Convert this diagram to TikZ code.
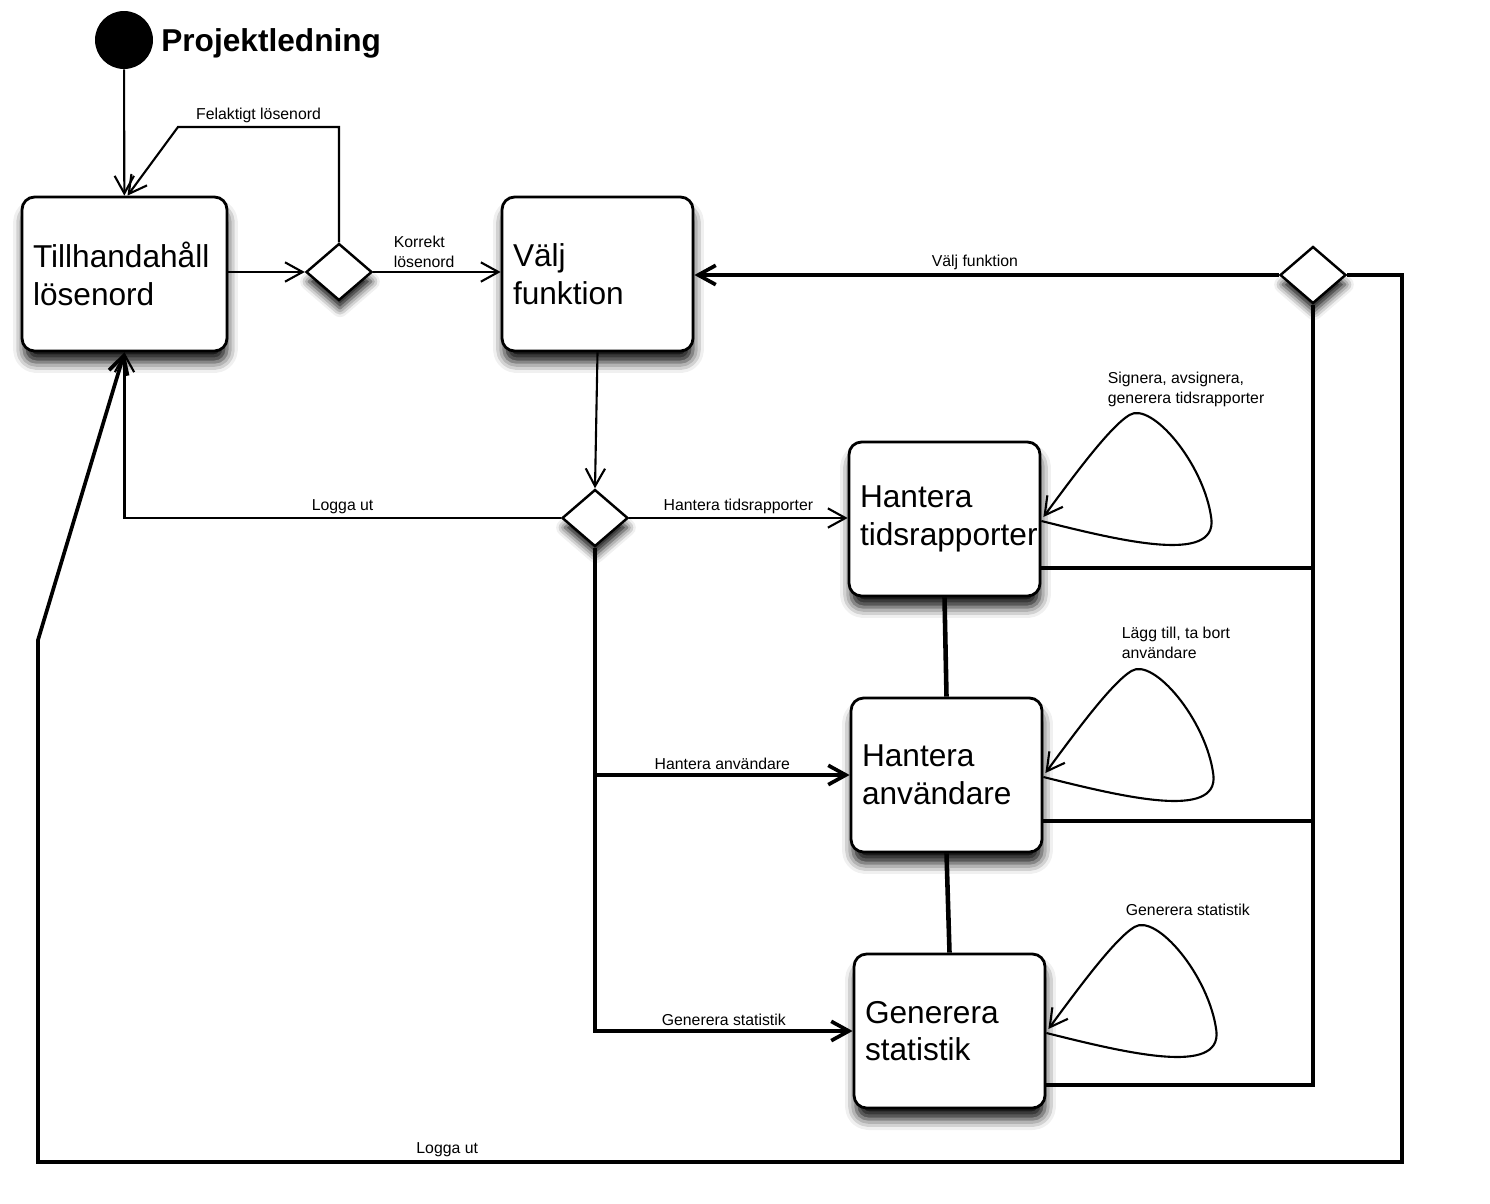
\documentclass[tikz,border=0pt]{standalone}
\usepackage{fontspec}
\setmainfont{Liberation Sans}
\usepackage{tikz}
\usetikzlibrary{arrows.meta,shapes.geometric,shadows.blur}
\tikzset{
    %Define standard arrow tip
    >={Straight Barb[length=10pt,width=11pt]},
    %Define style for states
    tillstand/.style={
           rectangle,
           rounded corners=0.25cm,
           draw=black, line width=1.6pt,
           fill=white,
           blur shadow={shadow xshift=0.02cm, shadow yshift=-0.24cm, shadow scale=0.99,
                        shadow blur radius=0.22cm, shadow opacity=95},
           minimum width=3.82cm,
           minimum height=3.08cm,
           text width=3.38cm,
           inner xsep=0.22cm,
           align=left,
           font=\fontsize{18}{21.5}\selectfont},
    %Define style for decisions
    beslut/.style={
           diamond,
           draw=black, line width=1.4pt,
           fill=white,
           blur shadow={shadow xshift=0.02cm, shadow yshift=-0.2cm, shadow scale=0.96,
                        shadow blur radius=0.18cm, shadow opacity=95},
           minimum width=1.32cm,
           minimum height=1.14cm,
           inner sep=0pt},
    startpunkt/.style={
           circle,
           fill=black,
           minimum size=1.16cm,
           inner sep=0pt},
    etikett/.style={
           font=\fontsize{9}{11.3}\selectfont,
           inner sep=2pt},
    % Define arrow style
    pil/.style={
           ->,
           line width=1.2pt},
    tjock/.style={
           line width=2.1pt}
}

\begin{document}
\begin{tikzpicture}[x=0.02cm,y=-0.02cm]
\useasboundingbox (0,0) rectangle (1490,1203);
\node[startpunkt](start) at (124,40){};
\node[anchor=base west, inner sep=0pt, font=\fontsize{18}{22}\selectfont\bfseries](titel) at (161,52){Projektledning};
\node[tillstand, minimum width=4.1cm, text width=3.66cm](till) at (124.5,274){Tillhandahåll\\lösenord};
\node[beslut](d1) at (339,272){};
\node[tillstand](valj) at (597.5,274){Välj\\funktion};
\node[beslut](d2) at (1313,275){};
\node[beslut](d3) at (595,518){};
\node[tillstand](tid) at (944.5,519){Hantera\\tidsrapporter};
\node[tillstand](anv) at (946.5,775){Hantera\\användare};
\node[tillstand](stat) at (949.5,1031){Generera\\statistik};
\coordinate (fel) at (178,127);
\coordinate (hog) at (1402,1162);
\coordinate (vanster) at (38,1162);
\coordinate (knack) at (38,640);

\draw[pil] (start) -- (till);
\draw[pil] (d1.north) |- node[etikett, above, pos=0.75]{Felaktigt lösenord} (fel) -- ([xshift=0.06cm]till.north);
\draw[pil] (till.east |- d1.west) -- (d1.west);
\draw[pil] (d1.east) -- node[etikett, above, pos=0.4, align=left]{Korrekt\\lösenord} (valj.west |- d1.east);
\draw[pil, tjock] (d2.west) -- node[etikett, above, pos=0.52]{Välj funktion} (valj.east |- d2.west);
\draw[pil, tjock] (d2.east) -| (hog) -- node[etikett, above, pos=0.7]{Logga ut} (vanster) -- (knack) -- (till.south);
\draw[pil] (valj.south) -- (d3.north);
\draw[pil] (d3.west) -| node[etikett, above, pos=0.25]{Logga ut} (till.south);
\draw[pil] (d3.east) -- node[etikett, above]{Hantera tidsrapporter} (tid.west |- d3.east);
\draw[pil, tjock] (d3.south) |- node[etikett, above, pos=0.75]{Generera statistik} (stat.west);
\draw[pil, tjock] (d3.south |- anv.west) -- node[etikett, above]{Hantera användare} (anv.west);
\draw[tjock, line width=2.6pt] (tid.south) -- (anv.north);
\draw[tjock, line width=2.6pt] (anv.south) -- (stat.north);
\foreach \b/\dy in {tid/0.98, anv/0.92, stat/1.08}
  \draw[tjock] ([yshift=-\dy cm]\b.east) -| (d2.south);
% self loops
\foreach \b in {tid,anv,stat}
  \draw[pil, shift={(\b.east)}] (0,2) .. controls (80,22) and (175,45) .. (170,0)
        .. controls (163,-55) and (110,-118) .. (88,-104)
        .. controls (68,-92) and (30,-40) .. (2,-2);
\node[etikett, anchor=north west, align=left] at (1104,368){Signera, avsignera,\\generera tidsrapporter};
\node[etikett, anchor=north west, align=left] at (1118,623){Lägg till, ta bort\\användare};
\node[etikett, anchor=north west] at (1122,900){Generera statistik};
\end{tikzpicture}
\end{document}
